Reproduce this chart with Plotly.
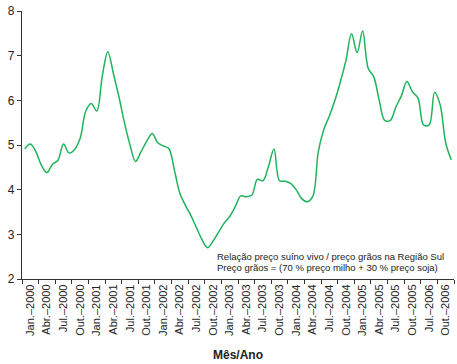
import plotly.graph_objects as go

# Tick labels (quarterly slots on the category axis)
tick_labels = [
    "Jan.–2000", "Abr.–2000", "Jul.–2000", "Out.–2000",
    "Jan.–2001", "Abr.–2001", "Jul.–2001", "Out.–2001",
    "Jan.–2002", "Abr.–2002", "Jul.–2002", "Out.–2002",
    "Jan.–2003", "Abr.–2003", "Jul.–2003", "Out.–2003",
    "Jan.–2004", "Abr.–2004", "Jul.–2004", "Out.–2004",
    "Jan.–2005", "Abr.–2005", "Jul.–2005", "Out.–2005",
    "Jul.–2006", "Out.–2006",
]

# Monthly ratio values, starting Jan. 2000
ratio = [
    4.91, 5.02, 4.85, 4.55, 4.38, 4.57, 4.66, 5.02, 4.82, 4.90,
    5.15, 5.75, 5.93, 5.76, 6.55, 7.09, 6.60, 6.08, 5.50, 5.00,
    4.63, 4.85, 5.08, 5.26, 5.05, 4.98, 4.92, 4.45, 3.92, 3.65,
    3.42, 3.15, 2.88, 2.70, 2.85, 3.05, 3.25, 3.40, 3.62, 3.86,
    3.84, 3.88, 4.23, 4.20, 4.52, 4.91, 4.20, 4.19, 4.14, 4.00,
    3.80, 3.73, 3.85, 4.85, 5.35, 5.65, 6.00, 6.42, 6.90, 7.49,
    7.07, 7.55, 6.72, 6.53, 6.00, 5.55, 5.55, 5.85, 6.10, 6.42,
    6.19, 6.05, 5.45, 5.45, 6.18, 5.90, 5.05, 4.67,
]

months = list(range(len(ratio)))
# each quarterly slot holds three months
xpos = [(m + 0.5) / 3 for m in months]
n_slots = len(tick_labels)

font_family = "Liberation Sans, Arial, sans-serif"

fig = go.Figure()
fig.add_trace(go.Scatter(
    x=xpos, y=ratio, mode="lines",
    line=dict(color="#1fb35c", width=1.5, shape="spline", smoothing=1.0),
    hoverinfo="skip", showlegend=False,
))

fig.update_layout(
    width=457, height=364,
    margin=dict(l=22, r=3, t=11, b=85, autoexpand=False),
    paper_bgcolor="white", plot_bgcolor="white",
    font=dict(family=font_family, color="#222222"),
    showlegend=False,
    xaxis=dict(
        range=[0, n_slots],
        automargin=False,
        tickmode="array",
        tickvals=[i + 0.5 for i in range(n_slots)],
        ticktext=tick_labels,
        tickangle=-90,
        ticks="",
        tickfont=dict(size=11, family=font_family, color="#222222"),
        showgrid=False, zeroline=False,
        showline=True, linecolor="#333333", linewidth=1.2,
        minor=dict(tickmode="array", tickvals=list(range(n_slots + 1)),
                   ticks="outside", ticklen=4, tickcolor="#333333",
                   showgrid=False),
        title=dict(text="<b>Mês/Ano</b>", font=dict(size=12, family=font_family, color="#222222"),
                   standoff=15),
        fixedrange=True,
    ),
    yaxis=dict(
        range=[2, 8],
        automargin=False,
        tickmode="array",
        tickvals=[2, 3, 4, 5, 6, 7, 8],
        ticks="outside", ticklen=4, tickcolor="#333333",
        tickfont=dict(size=12, family=font_family, color="#222222"),
        showgrid=False, zeroline=False,
        showline=True, linecolor="#333333", linewidth=1.2,
        fixedrange=True,
    ),
    annotations=[
        dict(text="Relação preço suíno vivo / preço grãos na Região Sul",
             xref="paper", yref="y", x=0.446, y=2.50, xanchor="left", yanchor="middle",
             showarrow=False, font=dict(size=9.5, family=font_family, color="#222222")),
        dict(text="Preço grãos = (70 % preço milho + 30 % preço soja)",
             xref="paper", yref="y", x=0.446, y=2.25, xanchor="left", yanchor="middle",
             showarrow=False, font=dict(size=9.5, family=font_family, color="#222222")),
    ],
)

fig.write_html(
    "out.html",
    config={"displayModeBar": False},
    post_script="document.body.style.margin='0';document.body.style.overflow='hidden';",
)
